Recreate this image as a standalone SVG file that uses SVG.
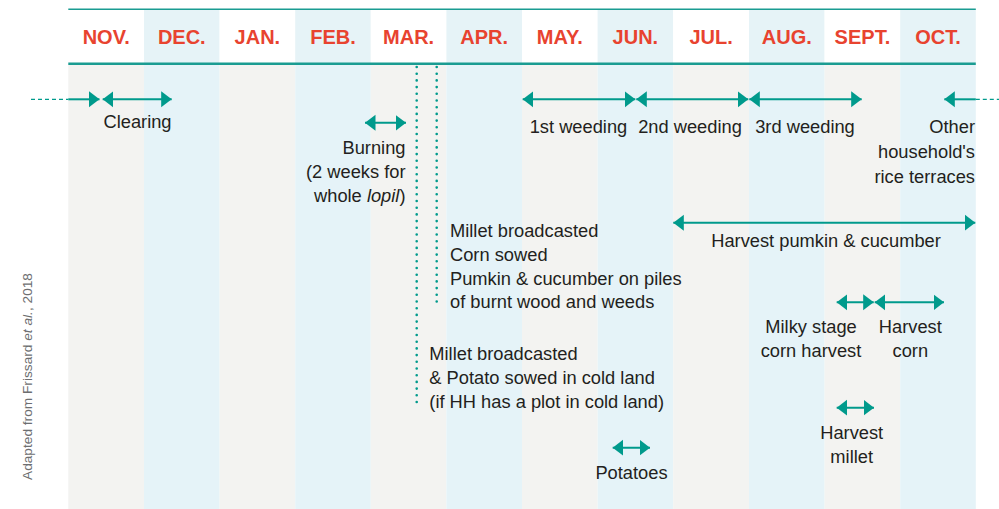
<svg xmlns="http://www.w3.org/2000/svg" width="999" height="509" viewBox="0 0 999 509">
<style>
.gb{fill:#f3f3f1}.bb{fill:#e5f3f8}.hw{fill:#ffffff}.hb{fill:#e6f3f7}
.m{font-family:"Liberation Sans",Arial,sans-serif;font-weight:bold;font-size:20px;fill:#e8432f;text-anchor:middle}
.t{font-family:"Liberation Sans",Arial,sans-serif;font-size:18.3px;fill:#231f20}
.c{text-anchor:middle}.r{text-anchor:end}
.a{stroke:#009a8c;stroke-width:2;fill:none}
.d{stroke:#009a8c;stroke-width:1.3;fill:none;stroke-dasharray:4 3}
.dot{stroke:#009a8c;stroke-width:2.6;fill:none;stroke-linecap:round;stroke-dasharray:0 6.7}
</style>
<defs>
<marker id="ah" markerUnits="userSpaceOnUse" markerWidth="11" markerHeight="17" refX="10.5" refY="8" orient="auto-start-reverse" viewBox="0 0 11 16">
<path d="M0,0 L10.5,8 L0,16 z" fill="#009a8c"/>
</marker>
</defs>
<rect width="999" height="509" fill="#ffffff"/>
<g id="columns">
<rect class="gb" x="68.3" y="64" width="75.7" height="445"/>
<rect class="bb" x="144" y="64" width="75.6" height="445"/>
<rect class="gb" x="219.6" y="64" width="75.6" height="445"/>
<rect class="bb" x="295.2" y="64" width="75.6" height="445"/>
<rect class="gb" x="370.8" y="64" width="75.6" height="445"/>
<rect class="bb" x="446.4" y="64" width="75.6" height="445"/>
<rect class="gb" x="522" y="64" width="75.6" height="445"/>
<rect class="bb" x="597.6" y="64" width="75.6" height="445"/>
<rect class="gb" x="673.2" y="64" width="75.8" height="445"/>
<rect class="bb" x="749" y="64" width="75.6" height="445"/>
<rect class="gb" x="824.6" y="64" width="75.6" height="445"/>
<rect class="bb" x="900.2" y="64" width="75.6" height="445"/>
</g>
<g id="header">
<rect class="hw" x="68.3" y="9" width="75.7" height="54"/>
<rect class="hb" x="144" y="9" width="75.6" height="54"/>
<rect class="hw" x="219.6" y="9" width="75.6" height="54"/>
<rect class="hb" x="295.2" y="9" width="75.6" height="54"/>
<rect class="hw" x="370.8" y="9" width="75.6" height="54"/>
<rect class="hb" x="446.4" y="9" width="75.6" height="54"/>
<rect class="hw" x="522" y="9" width="75.6" height="54"/>
<rect class="hb" x="597.6" y="9" width="75.6" height="54"/>
<rect class="hw" x="673.2" y="9" width="75.8" height="54"/>
<rect class="hb" x="749" y="9" width="75.6" height="54"/>
<rect class="hw" x="824.6" y="9" width="75.6" height="54"/>
<rect class="hb" x="900.2" y="9" width="75.6" height="54"/>
<line x1="68.3" y1="9.2" x2="975.8" y2="9.2" stroke="#1a9c92" stroke-width="1.6"/>
<line x1="68.3" y1="63.8" x2="975.8" y2="63.8" stroke="#1a9c92" stroke-width="2.6"/>
<text class="m" x="106.2" y="44.3">NOV.</text>
<text class="m" x="181.8" y="44.3">DEC.</text>
<text class="m" x="257.4" y="44.3">JAN.</text>
<text class="m" x="333" y="44.3">FEB.</text>
<text class="m" x="408.6" y="44.3">MAR.</text>
<text class="m" x="484.2" y="44.3">APR.</text>
<text class="m" x="559.8" y="44.3">MAY.</text>
<text class="m" x="635.4" y="44.3">JUN.</text>
<text class="m" x="711.1" y="44.3">JUL.</text>
<text class="m" x="786.8" y="44.3">AUG.</text>
<text class="m" x="862.4" y="44.3">SEPT.</text>
<text class="m" x="938" y="44.3">OCT.</text>
</g>
<g id="connectors">
<line class="d" x1="31" y1="99.3" x2="68.3" y2="99.3"/>
<line class="a" x1="68.3" y1="99.3" x2="99.5" y2="99.3" marker-end="url(#ah)"/>
<line class="a" x1="102.7" y1="99.3" x2="171.7" y2="99.3" marker-start="url(#ah)" marker-end="url(#ah)"/>
<line class="a" x1="365" y1="122.8" x2="406" y2="122.8" marker-start="url(#ah)" marker-end="url(#ah)"/>
<line class="a" x1="522.7" y1="99.3" x2="635.3" y2="99.3" marker-start="url(#ah)" marker-end="url(#ah)"/>
<line class="a" x1="636.3" y1="99.3" x2="748.3" y2="99.3" marker-start="url(#ah)" marker-end="url(#ah)"/>
<line class="a" x1="749.3" y1="99.3" x2="861.7" y2="99.3" marker-start="url(#ah)" marker-end="url(#ah)"/>
<line class="a" x1="944.3" y1="99.3" x2="975.8" y2="99.3" marker-start="url(#ah)"/>
<line class="d" x1="975.8" y1="99.3" x2="999" y2="99.3"/>
<line class="a" x1="673.3" y1="222.7" x2="975.3" y2="222.7" marker-start="url(#ah)" marker-end="url(#ah)"/>
<line class="a" x1="836.7" y1="302.3" x2="873.7" y2="302.3" marker-start="url(#ah)" marker-end="url(#ah)"/>
<line class="a" x1="874.7" y1="302.3" x2="944" y2="302.3" marker-start="url(#ah)" marker-end="url(#ah)"/>
<line class="a" x1="836.7" y1="407.7" x2="874" y2="407.7" marker-start="url(#ah)" marker-end="url(#ah)"/>
<line class="a" x1="612.7" y1="447.7" x2="650" y2="447.7" marker-start="url(#ah)" marker-end="url(#ah)"/>
<line class="dot" x1="416.7" y1="67" x2="416.7" y2="408"/>
<line class="dot" x1="436.7" y1="67" x2="436.7" y2="308"/>
</g>
<g id="clearing"><text class="t c" x="137.5" y="128.3">Clearing</text></g>
<g id="burning">
<text class="t r" x="405.5" y="154">Burning</text>
<text class="t r" x="405.5" y="178">(2 weeks for</text>
<text class="t r" x="405.5" y="201.5">whole <tspan font-style="italic">lopil</tspan>)</text>
</g>
<g id="weeding1"><text class="t c" x="578.5" y="133.3">1st weeding</text></g>
<g id="weeding2"><text class="t c" x="690" y="133.3">2nd weeding</text></g>
<g id="weeding3"><text class="t c" x="805" y="133.3">3rd weeding</text></g>
<g id="other">
<text class="t r" x="975" y="133.3">Other</text>
<text class="t r" x="975" y="158">household's</text>
<text class="t r" x="975" y="182.5">rice terraces</text>
</g>
<g id="sowing">
<text class="t" x="450" y="237">Millet broadcasted</text>
<text class="t" x="450" y="261">Corn sowed</text>
<text class="t" x="450" y="285">Pumkin &amp; cucumber on piles</text>
<text class="t" x="450" y="308.3">of burnt wood and weeds</text>
</g>
<g id="harvest-pumkin"><text class="t c" x="826" y="246.7">Harvest pumkin &amp; cucumber</text></g>
<g id="milky">
<text class="t c" x="811" y="333.3">Milky stage</text>
<text class="t c" x="811" y="356.5">corn harvest</text>
</g>
<g id="harvest-corn">
<text class="t c" x="910.3" y="333.3">Harvest</text>
<text class="t c" x="910.3" y="356.5">corn</text>
</g>
<g id="cold-land">
<text class="t" x="429.3" y="360">Millet broadcasted</text>
<text class="t" x="429.3" y="384">&amp; Potato sowed in cold land</text>
<text class="t" x="429.3" y="407.7">(if HH has a plot in cold land)</text>
</g>
<g id="harvest-millet">
<text class="t c" x="851.7" y="439.3">Harvest</text>
<text class="t c" x="851.7" y="462.7">millet</text>
</g>
<g id="potatoes"><text class="t c" x="631.5" y="479.3">Potatoes</text></g>
<g id="source">
<text transform="translate(32,376.5) rotate(-90)" font-family="'Liberation Sans',Arial,sans-serif" font-size="13.7" fill="#6d6e70" text-anchor="middle">Adapted from Frissard <tspan font-style="italic">et al.</tspan>, 2018</text>
</g>
</svg>
